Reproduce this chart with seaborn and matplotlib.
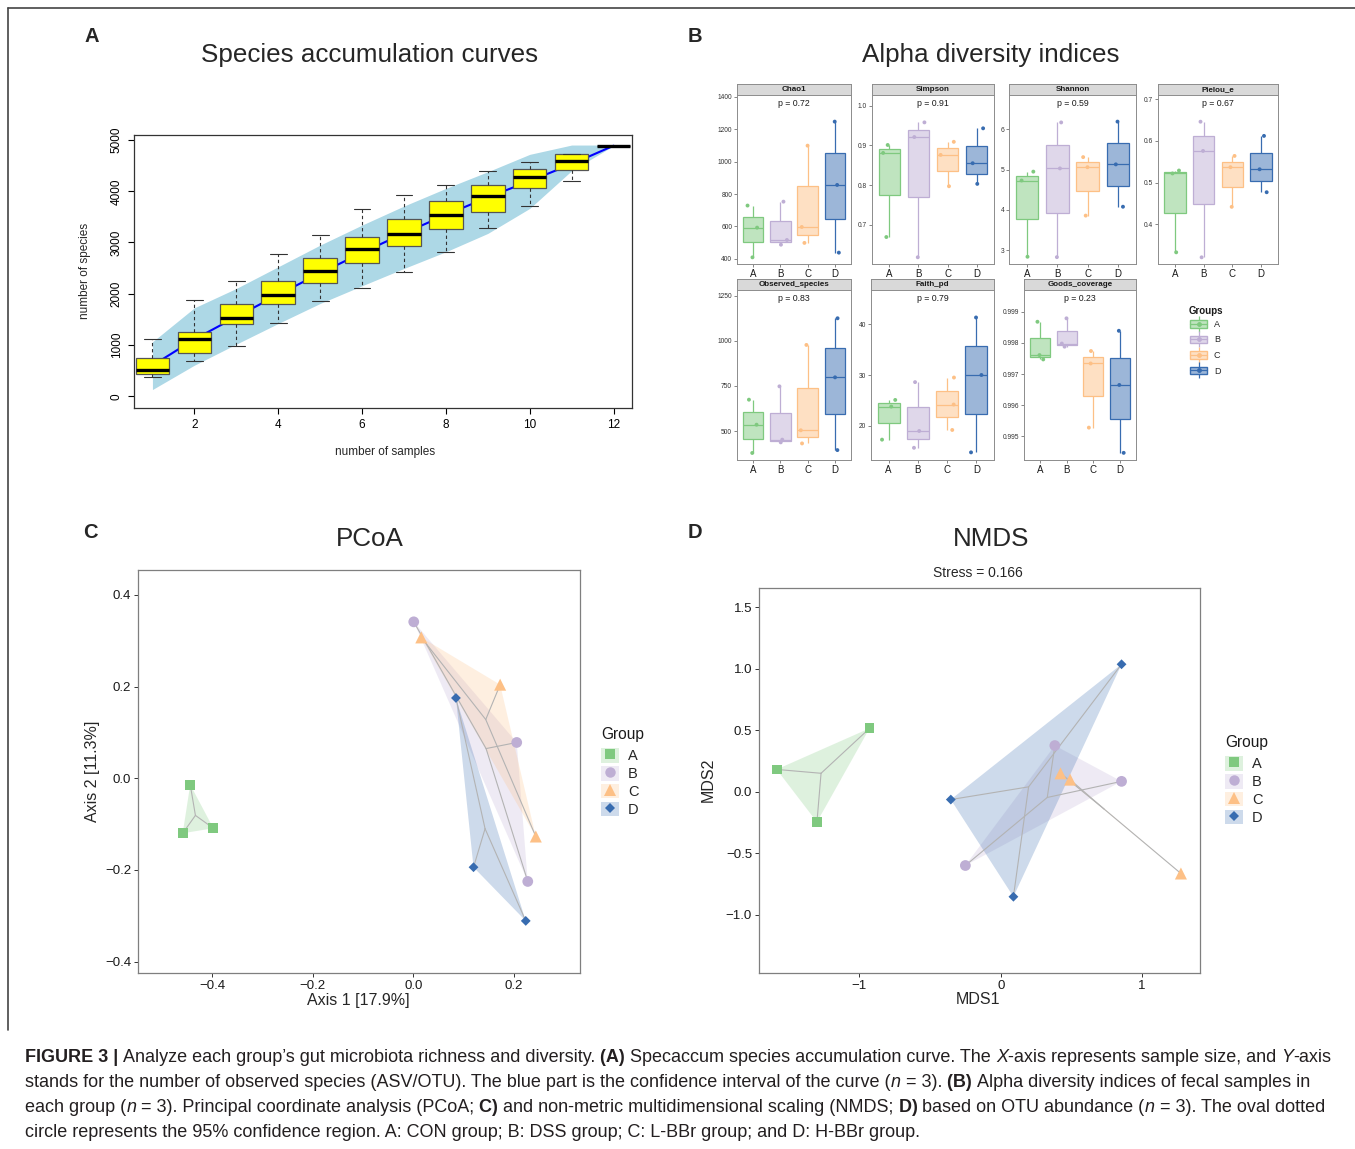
import numpy as np
import pandas as pd
import matplotlib
matplotlib.use("Agg")
import matplotlib.pyplot as plt
import matplotlib.colors as mcolors
import seaborn as sns
from matplotlib.patches import Patch
from matplotlib.lines import Line2D
from matplotlib import font_manager

# ---------------- data ----------------
groups = ['A', 'B', 'C', 'D']
group_colors = ['#7FC97F', '#BEAED4', '#FDC086', '#386CB0']

# Panel A: species accumulation
acc_samples = [1, 2, 3, 4, 5, 6, 7, 8, 9, 10, 11, 12]
acc_mean = [600, 1110, 1550, 1980, 2400, 2800, 3180, 3540, 3880, 4200, 4530, 4889]
acc_upper = [1061, 1725, 2103, 2526, 2949, 3340, 3711, 4056, 4381, 4720, 4902, 4902]
acc_lower = [130, 605, 1016, 1419, 1810, 2155, 2493, 2819, 3177, 3665, 4401, 4889]
box_whislo = [384, 690, 983, 1432, 1862, 2116, 2428, 2819, 3275, 3717, 4205, 4889]
box_q1 = [430, 846, 1400, 1790, 2207, 2591, 2930, 3262, 3587, 4056, 4407, 4889]
box_med = [514, 1107, 1523, 1973, 2448, 2877, 3170, 3528, 3899, 4271, 4590, 4889]
box_q3 = [742, 1263, 1790, 2246, 2702, 3112, 3463, 3802, 4127, 4440, 4720, 4889]
box_whishi = [1126, 1875, 2252, 2767, 3144, 3652, 3932, 4114, 4394, 4577, 4733, 4889]

# Panel B: alpha diversity (3 samples per group, groups A-D)
chao1 = [[729, 593, 410], [753, 517, 488], [1098, 597, 499], [1246, 856, 439]]
simpson = [[0.901, 0.881, 0.669], [0.958, 0.921, 0.618], [0.909, 0.876, 0.797], [0.943, 0.855, 0.803]]
shannon = [[4.95, 4.73, 2.84], [6.17, 5.03, 2.83], [5.31, 5.06, 3.86], [6.19, 5.13, 4.08]]
pielou = [[0.529, 0.522, 0.333], [0.646, 0.576, 0.321], [0.564, 0.537, 0.442], [0.612, 0.532, 0.477]]
observed = [[674, 535, 378], [748, 452, 437], [978, 504, 431], [1126, 798, 394]]
faith = [[25.1, 23.8, 17.3], [28.6, 19.0, 15.7], [29.5, 24.2, 19.2], [41.3, 30.0, 14.8]]
goods = [[0.99868, 0.99761, 0.99747], [0.99879, 0.99798, 0.99788],
         [0.99774, 0.99734, 0.99528], [0.99839, 0.99665, 0.99447]]
alpha_names = ['Chao1', 'Simpson', 'Shannon', 'Pielou_e', 'Observed_species', 'Faith_pd', 'Goods_coverage']
alpha_pvalues = ['0.72', '0.91', '0.59', '0.67', '0.83', '0.79', '0.23']

# Panel C: PCoA
pcoa_group = ['A', 'A', 'A', 'B', 'B', 'B', 'C', 'C', 'C', 'D', 'D', 'D']
pcoa_x = [-0.444, -0.459, -0.398, 0.001, 0.206, 0.228, 0.016, 0.173, 0.244, 0.085, 0.120, 0.224]
pcoa_y = [-0.014, -0.120, -0.109, 0.341, 0.078, -0.225, 0.307, 0.204, -0.127, 0.175, -0.194, -0.311]

# Panel D: NMDS
nmds_group = ['A', 'A', 'A', 'B', 'B', 'B', 'C', 'C', 'C', 'D', 'D', 'D']
nmds_x = [-1.585, -0.928, -1.300, 0.383, 0.855, -0.250, 0.423, 0.491, 1.275, -0.353, 0.855, 0.090]
nmds_y = [0.183, 0.517, -0.245, 0.377, 0.086, -0.598, 0.151, 0.100, -0.663, -0.062, 1.038, -0.852]

# ---------------- setup ----------------
sns.set_style("white")
plt.rcParams['font.family'] = ['Liberation Sans', 'DejaVu Sans']
plt.rcParams['axes.unicode_minus'] = True

W, H = 1355, 1149
fig = plt.figure(figsize=(W / 100, H / 100), dpi=100)
fig.patch.set_facecolor('white')


def add_ax(l, t, r, b):
    return fig.add_axes([l / W, 1 - b / H, (r - l) / W, (b - t) / H])


def ftext(x, y, s, **kw):
    return fig.text(x / W, 1 - y / H, s, **kw)


def blend(c, a):
    r, g, b = mcolors.to_rgb(c)
    return (1 - a + a * r, 1 - a + a * g, 1 - a + a * b)


fills = [blend(c, 0.5) for c in group_colors]
np.random.seed(7)

# figure frame lines
fig.add_artist(Line2D([8 / W, 1], [1 - 8 / H, 1 - 8 / H], color='#444444', lw=1.2))
fig.add_artist(Line2D([8 / W, 8 / W], [1 - 8 / H, 1 - 1030 / H], color='#444444', lw=1.2))

# panel letters and titles
for lab, (x, y) in zip('ABCD', [(92, 36), (695, 36), (90, 533), (695, 533)]):
    ftext(x, y, lab, fontsize=14.5, fontweight='bold', ha='center', va='center')
ftext(370, 55, 'Species accumulation curves', fontsize=18.7, ha='center', va='center')
ftext(991, 55, 'Alpha diversity indices', fontsize=18.7, ha='center', va='center')
ftext(370, 539, 'PCoA', fontsize=18.7, ha='center', va='center')
ftext(991, 539, 'NMDS', fontsize=18.7, ha='center', va='center')

# ---------------- Panel A ----------------
axA = add_ax(134, 135, 632, 408)
axA.fill_between(acc_samples, acc_lower, acc_upper, color='#ADD8E6', lw=0, zorder=1)
sns.lineplot(x=acc_samples, y=acc_mean, color='blue', lw=1.5, ax=axA, zorder=2)
stats = [dict(whislo=a, q1=b, med=c, q3=d, whishi=e, fliers=[])
         for a, b, c, d, e in zip(box_whislo, box_q1, box_med, box_q3, box_whishi)]
axA.bxp(stats, positions=acc_samples, widths=0.8, patch_artist=True, showfliers=False,
        capwidths=0.4, manage_ticks=False,
        boxprops=dict(facecolor='#FFFF00', edgecolor='#555555', lw=0.9),
        medianprops=dict(color='black', lw=2.4, solid_capstyle='butt'),
        whiskerprops=dict(color='#333333', lw=0.8, linestyle=(0, (3, 2.5))),
        capprops=dict(color='#333333', lw=0.8), zorder=3)
axA.set_xlim(0.56, 12.44)
axA.set_ylim(-230, 5098)
axA.set_xticks([2, 4, 6, 8, 10, 12])
axA.set_yticks([0, 1000, 2000, 3000, 4000, 5000])
axA.set_yticklabels(['0', '1000', '2000', '3000', '4000', '5000'], rotation=90, va='center')
axA.tick_params(axis='both', direction='out', length=4, width=0.8, labelsize=8.5, colors='black', pad=4,
                left=True, bottom=True)
for s in axA.spines.values():
    s.set_color('#333333')
    s.set_linewidth(0.9)
axA.set_xlabel('')
axA.set_ylabel('')
ftext(85, 271, 'number of species', fontsize=8.5, rotation=90, ha='center', va='center')
ftext(385, 452, 'number of samples', fontsize=8.5, ha='center', va='center')

# ---------------- Panel B ----------------
alpha_values = [chao1, simpson, shannon, pielou, observed, faith, goods]
alpha_boxes = [(737, 84, 851, 264), (872, 84, 994, 264), (1009, 84, 1136, 264), (1158, 84, 1278, 264),
               (737, 279, 851, 460), (871, 279, 994, 460), (1024, 279, 1136, 460)]
alpha_ylims = [(369, 1410), (0.601, 1.027), (2.66, 6.85), (0.305, 0.71),
               (339, 1283), (13.3, 46.7), (0.99424, 0.9997)]
alpha_ticks = [[400, 600, 800, 1000, 1200, 1400], [0.7, 0.8, 0.9, 1.0], [3, 4, 5, 6], [0.4, 0.5, 0.6, 0.7],
               [500, 750, 1000, 1250], [20, 30, 40], [0.995, 0.996, 0.997, 0.998, 0.999]]
alpha_fmts = ['{:.0f}', '{:.1f}', '{:.0f}', '{:.1f}', '{:.0f}', '{:.0f}', '{:.3f}']

for name, vals, pv, (l, t, r, b), ylim, ticks, fmt in zip(alpha_names, alpha_values, alpha_pvalues,
                                                         alpha_boxes, alpha_ylims, alpha_ticks, alpha_fmts):
    strip = add_ax(l, t, r, t + 11)
    strip.set_facecolor('#D9D9D9')
    strip.set_xticks([])
    strip.set_yticks([])
    for s in strip.spines.values():
        s.set_color('#8C8C8C')
        s.set_linewidth(0.7)
    strip.text(0.5, 0.5, name, transform=strip.transAxes, ha='center', va='center',
               fontsize=5.8, fontweight='bold', color='#1a1a1a')

    ax = add_ax(l, t + 11, r, b)
    df = pd.DataFrame({'group': np.repeat(groups, 3), 'value': np.concatenate(vals)})
    for g, fc, ec in zip(groups, fills, group_colors):
        sub = df[df.group == g]
        sns.boxplot(data=sub, x='group', y='value', order=groups, color=fc, linecolor=ec,
                    saturation=1, width=0.75, whis=(0, 100), showcaps=False, showfliers=False,
                    linewidth=0.9, ax=ax)
    sns.stripplot(data=df, x='group', y='value', hue='group', order=groups, hue_order=groups,
                  palette=group_colors, jitter=0.25, size=2.8, legend=False, ax=ax, zorder=4)
    ax.set_xlim(-0.6, 3.6)
    ax.set_ylim(*ylim)
    ax.set_yticks(ticks)
    ax.set_yticklabels([fmt.format(v) for v in ticks])
    ax.set_xlabel('')
    ax.set_ylabel('')
    ax.tick_params(axis='y', labelsize=4.8, length=2, width=0.5, colors='#555555', labelcolor='#333333',
                   pad=1.5, left=True)
    ax.tick_params(axis='x', labelsize=7, length=2, width=0.5, colors='#555555', labelcolor='#1a1a1a',
                   pad=1.5, bottom=True)
    for s in ax.spines.values():
        s.set_color('#8C8C8C')
        s.set_linewidth(0.7)
    ax.text(0.5, 0.975, 'p = ' + pv, transform=ax.transAxes, ha='center', va='top', fontsize=6.3,
            color='#1a1a1a')

ftext(1189, 311, 'Groups', fontsize=7, fontweight='bold', ha='left', va='center', color='#1a1a1a')
b_handles = [(Line2D([], [], ls='', marker='|', markersize=11, markeredgewidth=0.9, color=ec),
              Patch(facecolor=fc, edgecolor=ec, lw=1),
              Line2D([], [], color=ec, lw=0.9, marker='o', markersize=2.5))
             for fc, ec in zip(fills, group_colors)]
fig.legend(b_handles, groups, loc='upper left',
           bbox_to_anchor=(1190 / W, 1 - 320 / H), frameon=False, fontsize=6.5,
           handlelength=1.9, handleheight=0.95, labelspacing=0.72, handletextpad=0.75,
           borderpad=0, borderaxespad=0)

# ---------------- Panels C and D ----------------
marker_map = {'A': 's', 'B': 'o', 'C': '^', 'D': 'D'}
size_map = {'A': 50, 'B': 60, 'C': 75, 'D': 25}
legend_ms = {'A': 7, 'B': 7.5, 'C': 8, 'D': 5}


def ordination(ax, xs, ys, gs):
    df = pd.DataFrame({'x': xs, 'y': ys, 'group': gs})
    for g, c in zip(groups, group_colors):
        sub = df[df.group == g]
        ax.fill(sub.x, sub.y, color=c, alpha=0.25, lw=0, zorder=1)
        cx, cy = sub.x.mean(), sub.y.mean()
        for px, py in zip(sub.x, sub.y):
            ax.plot([cx, px], [cy, py], color='#B3B3B3', lw=0.8, zorder=2)
    sns.scatterplot(data=df, x='x', y='y', hue='group', hue_order=groups, palette=group_colors,
                    style='group', style_order=groups, markers=marker_map, size='group',
                    size_order=groups, sizes=size_map, linewidth=0, legend=False, ax=ax, zorder=3)
    ax.set_xlabel('')
    ax.set_ylabel('')
    ax.tick_params(axis='both', labelsize=9.5, length=3, width=0.7, colors='#333333',
                   labelcolor='#1a1a1a', pad=2, left=True, bottom=True)
    for s in ax.spines.values():
        s.set_color('#7F7F7F')
        s.set_linewidth(0.9)


def ord_legend(x, title_y, first_y):
    ftext(x, title_y, 'Group', fontsize=11.2, ha='left', va='center', color='#1a1a1a')
    hs = [(Patch(facecolor=c, alpha=0.25, edgecolor='none'),
           Line2D([], [], ls='', marker=marker_map[g], color=c, markersize=legend_ms[g], markeredgewidth=0))
          for g, c in zip(groups, group_colors)]
    fig.legend(hs, groups, loc='upper left', bbox_to_anchor=(x / W, 1 - (first_y - 8.7) / H),
               frameon=False, fontsize=10.5, handlelength=1.25, handleheight=1.15,
               labelspacing=0.18, handletextpad=0.6, borderpad=0, borderaxespad=0)


axC = add_ax(138, 570, 580, 973)
ordination(axC, pcoa_x, pcoa_y, pcoa_group)
axC.set_xlim(-0.548, 0.332)
axC.set_ylim(-0.4246, 0.454)
axC.set_xticks([-0.4, -0.2, 0.0, 0.2])
axC.set_yticks([-0.4, -0.2, 0.0, 0.2, 0.4])
ftext(358, 1000, 'Axis 1 [17.9%]', fontsize=11.5, ha='center', va='center')
ftext(92, 771, 'Axis 2 [11.3%]', fontsize=11.5, rotation=90, ha='center', va='center')
ord_legend(601, 734, 757)

axD = add_ax(759, 588, 1200, 973)
ordination(axD, nmds_x, nmds_y, nmds_group)
axD.set_xlim(-1.71, 1.41)
axD.set_ylim(-1.472, 1.658)
axD.set_xticks([-1, 0, 1])
axD.set_yticks([-1.0, -0.5, 0.0, 0.5, 1.0, 1.5])
axD.set_yticklabels(['\u22121.0', '\u22120.5', '0.0', '0.5', '1.0', '1.5'])
axD.set_xticklabels(['\u22121', '0', '1'])
ftext(978, 573, 'Stress = 0.166', fontsize=10, ha='center', va='center')
ftext(978, 1000, 'MDS1', fontsize=11.5, ha='center', va='center')
ftext(708, 780, 'MDS2', fontsize=11.5, rotation=90, ha='center', va='center')
ord_legend(1225, 742, 765)

# ---------------- caption ----------------
def has_font(name):
    try:
        font_manager.findfont(font_manager.FontProperties(family=name), fallback_to_default=False)
        return True
    except Exception:
        return False


cap_family = 'Liberation Sans Narrow' if has_font('Liberation Sans Narrow') else 'Liberation Sans'
renderer = fig.canvas.get_renderer()


def seg_width(s, size, weight, style):
    t1 = fig.text(0, 0, s + 'x', fontsize=size, fontweight=weight, fontstyle=style, family=cap_family)
    t2 = fig.text(0, 0, 'x', fontsize=size, fontweight=weight, fontstyle=style, family=cap_family)
    w = t1.get_window_extent(renderer).width - t2.get_window_extent(renderer).width
    t1.remove()
    t2.remove()
    return w


N, Bd, It = ('normal', 'normal'), ('bold', 'normal'), ('normal', 'italic')
cap_lines = [
    [('FIGURE 3 | ', Bd), ('Analyze each group\u2019s gut microbiota richness and diversity. ', N), ('(A) ', Bd),
     ('Specaccum species accumulation curve. The ', N), ('X', It), ('-axis represents sample size, and ', N),
     ('Y', It), ('-axis', N)],
    [('stands for the number of observed species (ASV/OTU). The blue part is the confidence interval of the curve (', N),
     ('n', It), (' = 3). ', N), ('(B) ', Bd), ('Alpha diversity indices of fecal samples in', N)],
    [('each group (', N), ('n', It), (' = 3). Principal coordinate analysis (PCoA; ', N), ('C) ', Bd),
     ('and non-metric multidimensional scaling (NMDS; ', N), ('D) ', Bd), ('based on OTU abundance (', N),
     ('n', It), (' = 3). The oval dotted', N)],
    [('circle represents the 95% confidence region. A: CON group; B: DSS group; C: L-BBr group; and D: H-BBr group.', N)],
]

base = 10.0
w1 = sum(seg_width(s, base, w, st) for s, (w, st) in cap_lines[0])
cap_size = base * 1313.0 / w1
for i, line in enumerate(cap_lines):
    x = 25.0
    y = 1062 + 25 * i
    for s, (w, st) in line:
        fig.text(x / W, 1 - y / H, s, fontsize=cap_size, fontweight=w, fontstyle=st, family=cap_family,
                 ha='left', va='baseline', color='#231F20')
        x += seg_width(s, cap_size, w, st)

fig.savefig('out.png', dpi=100, facecolor='white')
